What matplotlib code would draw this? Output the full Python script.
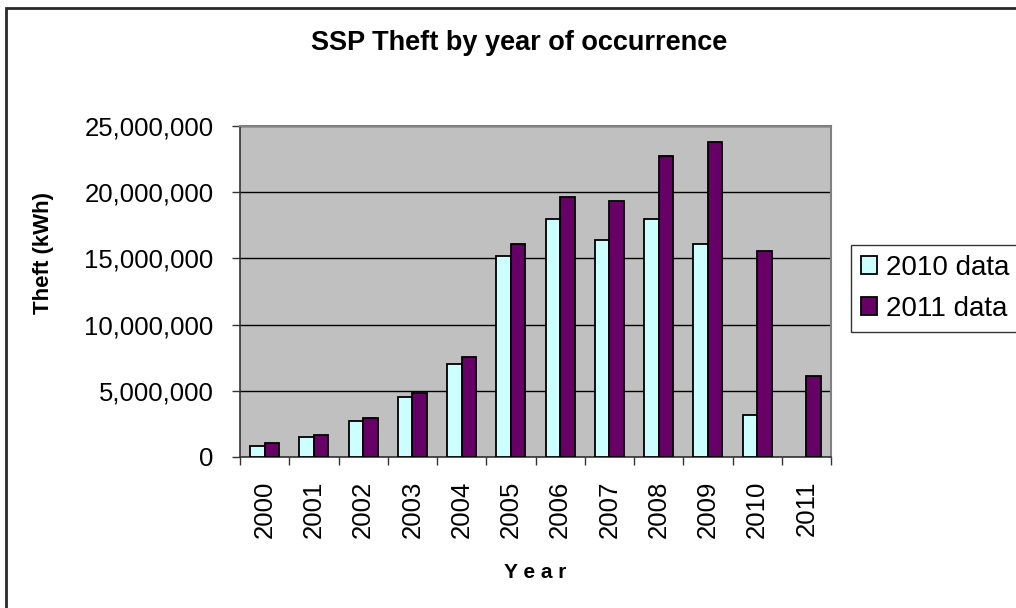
import matplotlib
matplotlib.use("Agg")
import matplotlib.pyplot as plt
from matplotlib.ticker import FuncFormatter, FixedLocator
from matplotlib.patches import Rectangle
import numpy as np

plt.rcParams['font.family'] = ['Liberation Sans', 'DejaVu Sans']

years = ["2000", "2001", "2002", "2003", "2004", "2005",
         "2006", "2007", "2008", "2009", "2010", "2011"]
data_2010 = [810000, 1490000, 2700000, 4500000, 7050000, 15150000,
             17980000, 16360000, 18000000, 16090000, 3140000, None]
data_2011 = [1090000, 1670000, 2980000, 4850000, 7580000, 16090000,
             19650000, 19370000, 22730000, 23820000, 15560000, 6110000]
series_labels = ["2010 data", "2011 data"]
y_ticks = [0, 5000000, 10000000, 15000000, 20000000, 25000000]

W, H = 1016, 608
fig = plt.figure(figsize=(W / 100, H / 100), dpi=100)

# outer chart frame
fig.patches.append(Rectangle((5.5 / W, 0 - 0.01), 1.1, 1 - 8 / H + 0.01,
                             transform=fig.transFigure, fill=False,
                             edgecolor="#2a2a2a", linewidth=2.0))

ax = fig.add_axes([240 / W, 1 - 457 / H, (831 - 240) / W, (457 - 126) / H])
ax.set_facecolor("#C0C0C0")

x = np.arange(len(years))
v2010 = np.array([np.nan if v is None else v for v in data_2010], dtype=float)
v2011 = np.array(data_2011, dtype=float)
bw = 0.295
ax.bar(x - bw / 2, v2010, width=bw, color="#CCFFFF", edgecolor="black",
       linewidth=1.3, label=series_labels[0], zorder=3)
ax.bar(x + bw / 2, v2011, width=bw, color="#660066", edgecolor="black",
       linewidth=1.3, label=series_labels[1], zorder=3)

ax.set_xlim(-0.5, len(years) - 0.5)
ax.set_ylim(0, 25000000)
ax.set_yticks(y_ticks)
ax.yaxis.set_major_formatter(FuncFormatter(lambda v, p: f"{int(v):,}"))
ax.yaxis.grid(True, color="black", linewidth=1.0, zorder=1)
ax.set_axisbelow(True)

# category ticks at boundaries, labels at centres
ax.xaxis.set_major_locator(FixedLocator(np.arange(-0.5, len(years), 1.0)))
ax.xaxis.set_major_formatter(FuncFormatter(lambda v, p: ""))
ax.xaxis.set_minor_locator(FixedLocator(x))
ax.set_xticklabels(years, minor=True, rotation=90, fontsize=18.5)
ax.tick_params(axis="x", which="minor", length=0, pad=17)
ax.tick_params(axis="x", which="major", length=6, width=1.0, direction="out",
               color="#333333")
ax.tick_params(axis="y", length=6, width=1.0, direction="out", color="#333333",
               labelsize=18.5, pad=13)

for side in ("top", "right"):
    ax.spines[side].set_color("#808080")
    ax.spines[side].set_linewidth(1.5)
for side in ("left", "bottom"):
    ax.spines[side].set_color("#333333")
    ax.spines[side].set_linewidth(1.2)

fig.text(519 / W, 1 - 50 / H, "SSP Theft by year of occurrence",
         ha="center", va="baseline", fontsize=19.5, fontweight="bold")
fig.text(44 / W, 1 - 253 / H, "Theft (kWh)", ha="center", va="center",
         rotation=90, fontsize=16, fontweight="bold")
fig.text(535 / W, 1 - 572 / H, "Y e a r", ha="center", va="center",
         fontsize=15, fontweight="bold")

leg = ax.legend(loc="upper left", bbox_to_anchor=(851 / W, 1 - 245 / H),
                bbox_transform=fig.transFigure, frameon=True, fancybox=False,
                fontsize=20, handlelength=0.6, handleheight=0.6,
                handletextpad=0.3, borderpad=0.35, labelspacing=0.55,
                borderaxespad=0)
leg.get_frame().set_edgecolor("black")
leg.get_frame().set_linewidth(1.0)

fig.savefig("out.png", dpi=100, facecolor="white")
